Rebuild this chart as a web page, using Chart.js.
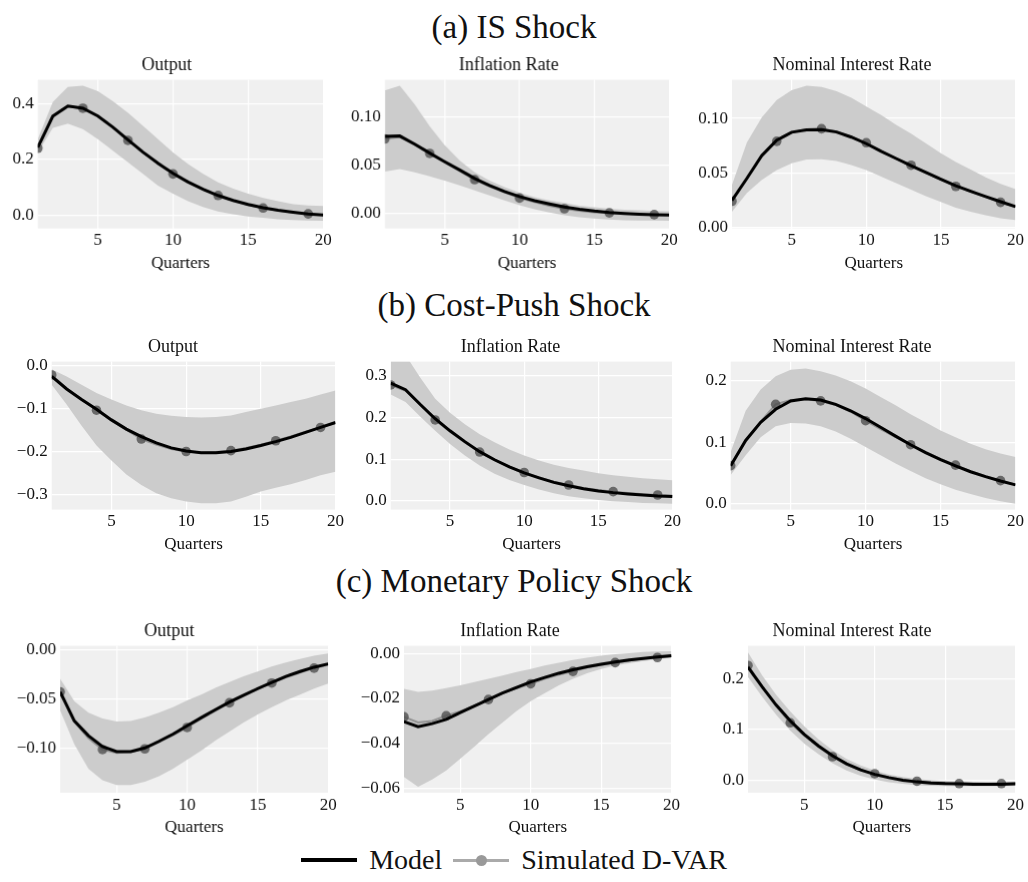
<!DOCTYPE html>
<html>
<head>
<meta charset="utf-8">
<script src="https://cdn.jsdelivr.net/npm/chart.js@4.4.1/dist/chart.umd.min.js"></script>
<style>
  html, body { margin: 0; padding: 0; background: #fff; }
  #page { position: relative; width: 1028px; height: 882px; font-family: 'Liberation Serif', serif; color: #111; }
  .section { position: absolute; left: 0; width: 1028px; text-align: center; font-size: 33px; line-height: 36px; }
  .box { position: absolute; }
  #legend { position: absolute; left: 0; width: 1028px; top: 842px; height: 36px; display: flex; justify-content: center; align-items: center; font-size: 28px; }
  .lg-model { width: 56px; height: 4px; background: #000; margin-right: 12px; }
  .lg-dvar { position: relative; width: 56px; height: 3px; background: #aaa; margin: 0 12px 0 11px; }
  .lg-dvar span { position: absolute; left: 23px; top: -4px; width: 11px; height: 11px; border-radius: 50%; background: #999; }
</style>
</head>
<body>
<div id="page">
  <div class="section" style="top:9px">(a) IS Shock</div>
  <div class="section" style="top:287px">(b) Cost-Push Shock</div>
  <div class="section" style="top:563px">(c) Monetary Policy Shock</div>
  <div id="legend">
    <div class="lg-model"></div><span>Model</span>
    <div class="lg-dvar"><span></span></div><span>Simulated D-VAR</span>
  </div>
</div>
<script>
// Horizon and axis ticks
const quarters = [1, 2, 3, 4, 5, 6, 7, 8, 9, 10, 11, 12, 13, 14, 15, 16, 17, 18, 19, 20];
const xTicks = [5, 10, 15, 20];
const panelTitles = ['Output', 'Inflation Rate', 'Nominal Interest Rate'];

// (a) IS shock
const isOutputModel = [0.243, 0.355, 0.391, 0.383, 0.355, 0.315, 0.270, 0.226, 0.186, 0.150, 0.119, 0.093, 0.071, 0.053, 0.039, 0.027, 0.018, 0.011, 0.005, 0.001];
const isOutputUpper = [0.272, 0.405, 0.459, 0.464, 0.444, 0.408, 0.367, 0.320, 0.272, 0.225, 0.183, 0.148, 0.118, 0.095, 0.077, 0.062, 0.050, 0.040, 0.035, 0.033];
const isOutputLower = [0.225, 0.313, 0.328, 0.308, 0.272, 0.231, 0.190, 0.148, 0.106, 0.077, 0.050, 0.030, 0.014, 0.004, -0.004, -0.009, -0.014, -0.017, -0.019, -0.020];
const isOutputDvar = [0.240, 0.352, 0.389, 0.383, 0.355, 0.315, 0.268, 0.225, 0.185, 0.148, 0.118, 0.092, 0.071, 0.053, 0.038, 0.026, 0.017, 0.010, 0.005, 0.001];

const isInflModel = [0.0795, 0.0800, 0.0716, 0.0624, 0.0535, 0.0450, 0.0362, 0.0290, 0.0228, 0.0176, 0.0133, 0.0099, 0.0068, 0.0044, 0.0026, 0.0012, 0.0002, -0.0006, -0.0012, -0.0016];
const isInflUpper = [0.127, 0.132, 0.1125, 0.090, 0.0706, 0.0546, 0.0426, 0.034, 0.0273, 0.0215, 0.017, 0.0136, 0.011, 0.008, 0.0065, 0.005, 0.004, 0.0034, 0.0027, 0.0024];
const isInflLower = [0.0433, 0.046, 0.0426, 0.0385, 0.034, 0.029, 0.0239, 0.0188, 0.0136, 0.0085, 0.0044, 0.001, -0.0017, -0.0038, -0.0051, -0.0061, -0.0068, -0.0072, -0.0072, -0.0075];
const isInflDvar = [0.077, 0.079, 0.071, 0.062, 0.053, 0.044, 0.035, 0.028, 0.022, 0.016, 0.012, 0.008, 0.005, 0.003, 0.0015, 0.0007, 0.0, -0.0006, -0.0011, -0.0015];

const isRateModel = [0.0247, 0.045, 0.066, 0.080, 0.0873, 0.0895, 0.0898, 0.0875, 0.0828, 0.0768, 0.0698, 0.0632, 0.0566, 0.0503, 0.0442, 0.0382, 0.0331, 0.0283, 0.0235, 0.019];
const isRateUpper = [0.039, 0.078, 0.101, 0.117, 0.126, 0.130, 0.129, 0.125, 0.119, 0.111, 0.103, 0.094, 0.086, 0.077, 0.068, 0.060, 0.053, 0.046, 0.040, 0.035];
const isRateLower = [0.0144, 0.0316, 0.0436, 0.0527, 0.0587, 0.0623, 0.0626, 0.0608, 0.0572, 0.0527, 0.0467, 0.0406, 0.0346, 0.0286, 0.0232, 0.018, 0.0144, 0.0111, 0.0084, 0.0066];
const isRateDvar = [0.024, 0.045, 0.065, 0.079, 0.087, 0.090, 0.0905, 0.088, 0.083, 0.0777, 0.070, 0.063, 0.057, 0.050, 0.044, 0.0376, 0.033, 0.028, 0.023, 0.019];

// (b) Cost-push shock
const cpOutputModel = [-0.0245, -0.0536, -0.078, -0.101, -0.1255, -0.147, -0.1645, -0.179, -0.1905, -0.198, -0.202, -0.202, -0.199, -0.193, -0.185, -0.176, -0.166, -0.1545, -0.143, -0.1316];
const cpOutputUpper = [-0.0077, -0.0245, -0.0436, -0.0627, -0.078, -0.092, -0.103, -0.111, -0.116, -0.1186, -0.12, -0.1186, -0.115, -0.107, -0.0995, -0.092, -0.084, -0.0765, -0.0666, -0.0574];
const cpOutputLower = [-0.0436, -0.0895, -0.139, -0.185, -0.2196, -0.2525, -0.277, -0.296, -0.3075, -0.315, -0.319, -0.319, -0.315, -0.304, -0.292, -0.283, -0.275, -0.265, -0.254, -0.246];
const cpOutputDvar = [-0.021, -0.052, -0.078, -0.103, -0.127, -0.149, -0.170, -0.183, -0.193, -0.199, -0.201, -0.200, -0.197, -0.191, -0.183, -0.174, -0.164, -0.153, -0.143, -0.132];

const cpInflModel = [0.2825, 0.2667, 0.231, 0.197, 0.168, 0.142, 0.118, 0.0986, 0.0813, 0.067, 0.0552, 0.0442, 0.0363, 0.0292, 0.0237, 0.0197, 0.0166, 0.0142, 0.0118, 0.0103];
const cpInflUpper = [0.345, 0.35, 0.295, 0.245, 0.2115, 0.184, 0.16, 0.1405, 0.123, 0.109, 0.097, 0.0868, 0.079, 0.0726, 0.0663, 0.0615, 0.0576, 0.0544, 0.052, 0.0497];
const cpInflLower = [0.255, 0.237, 0.202, 0.168, 0.1365, 0.109, 0.085, 0.065, 0.050, 0.038, 0.027, 0.018, 0.011, 0.006, 0.002, -0.001, -0.003, -0.005, -0.006, -0.007];
const cpInflDvar = [0.278, 0.264, 0.229, 0.194, 0.166, 0.140, 0.117, 0.098, 0.082, 0.068, 0.056, 0.046, 0.038, 0.031, 0.026, 0.022, 0.019, 0.016, 0.014, 0.012];

const cpRateModel = [0.0617, 0.1027, 0.132, 0.153, 0.1665, 0.170, 0.168, 0.161, 0.1506, 0.138, 0.124, 0.1096, 0.0958, 0.083, 0.0718, 0.0617, 0.0521, 0.0442, 0.0372, 0.0309];
const cpRateUpper = [0.084, 0.1506, 0.185, 0.2064, 0.217, 0.2187, 0.2144, 0.2075, 0.1984, 0.1867, 0.173, 0.1596, 0.145, 0.132, 0.1186, 0.108, 0.0974, 0.0883, 0.0814, 0.076];
const cpRateLower = [0.0468, 0.0787, 0.108, 0.1256, 0.131, 0.130, 0.1256, 0.117, 0.1053, 0.092, 0.0787, 0.0654, 0.0532, 0.0415, 0.0319, 0.0229, 0.016, 0.0096, 0.0043, 0.0005];
const cpRateDvar = [0.062, 0.103, 0.133, 0.161, 0.168, 0.169, 0.1665, 0.160, 0.149, 0.1346, 0.121, 0.108, 0.0958, 0.084, 0.073, 0.0628, 0.053, 0.045, 0.0378, 0.031];

// (c) Monetary policy shock
const mpOutputModel = [-0.0428, -0.0724, -0.0875, -0.0987, -0.1037, -0.1037, -0.1000, -0.0933, -0.0859, -0.0774, -0.069, -0.061, -0.0532, -0.0461, -0.0394, -0.033, -0.0269, -0.0219, -0.0175, -0.0141];
const mpOutputUpper = [-0.0293, -0.0522, -0.064, -0.070, -0.0731, -0.0724, -0.069, -0.064, -0.0583, -0.0515, -0.0455, -0.0387, -0.0327, -0.0269, -0.0219, -0.0168, -0.0128, -0.0091, -0.0057, -0.0034];
const mpOutputLower = [-0.0616, -0.096, -0.1212, -0.133, -0.138, -0.138, -0.1347, -0.129, -0.1212, -0.1121, -0.1027, -0.0926, -0.0832, -0.0741, -0.0657, -0.0583, -0.0515, -0.0455, -0.0394, -0.0343];
const mpOutputDvar = [-0.0428, -0.073, -0.090, -0.1017, -0.105, -0.104, -0.101, -0.094, -0.087, -0.0791, -0.070, -0.062, -0.0539, -0.047, -0.040, -0.0337, -0.028, -0.023, -0.0185, -0.015];

const mpInflModel = [-0.0303, -0.0326, -0.0312, -0.0293, -0.0263, -0.0234, -0.0205, -0.0176, -0.0151, -0.0127, -0.0107, -0.0088, -0.0073, -0.0059, -0.0048, -0.0038, -0.0029, -0.0022, -0.0016, -0.001];
const mpInflUpper = [-0.0157, -0.0171, -0.0165, -0.0154, -0.0142, -0.0127, -0.0113, -0.0098, -0.0083, -0.0069, -0.0054, -0.0041, -0.0029, -0.0019, -0.001, -0.0004, 0.0001, 0.0006, 0.0009, 0.001];
const mpInflLower = [-0.0549, -0.0593, -0.056, -0.052, -0.0468, -0.0414, -0.0358, -0.0307, -0.0256, -0.0212, -0.0176, -0.0142, -0.0113, -0.0088, -0.0069, -0.0054, -0.0044, -0.0034, -0.0026, -0.0019];
const mpInflDvar = [-0.0282, -0.0307, -0.0300, -0.0277, -0.0258, -0.0232, -0.0205, -0.0177, -0.0154, -0.0135, -0.0112, -0.0094, -0.0080, -0.0063, -0.0051, -0.0041, -0.0031, -0.0024, -0.0018, -0.0012];

const mpRateModel = [0.2226, 0.184, 0.148, 0.117, 0.090, 0.0677, 0.0484, 0.0323, 0.0206, 0.0116, 0.0052, 0.0, -0.0032, -0.0052, -0.0065, -0.0071, -0.0077, -0.0077, -0.0077, -0.0071];
const mpRateUpper = [0.2516, 0.2064, 0.1677, 0.1355, 0.1064, 0.0806, 0.0593, 0.0419, 0.029, 0.0194, 0.0116, 0.0065, 0.0026, 0.0, -0.0013, -0.0026, -0.0032, -0.0039, -0.0039, -0.0039];
const mpRateLower = [0.203, 0.1645, 0.129, 0.098, 0.0722, 0.0516, 0.0335, 0.0194, 0.009, 0.0013, -0.0039, -0.0071, -0.0097, -0.011, -0.0116, -0.0116, -0.0116, -0.0116, -0.0116, -0.011];
const mpRateDvar = [0.2258, 0.185, 0.146, 0.113, 0.088, 0.066, 0.0464, 0.031, 0.020, 0.0129, 0.006, 0.001, -0.0019, -0.004, -0.0055, -0.0065, -0.007, -0.0068, -0.0065, -0.006];

// y axis ranges and ticks, panel order row by row
const yMins = [-0.047, -0.0153, -0.001, -0.334, -0.021, -0.009, -0.1458, -0.0619, -0.0245];
const yMaxs = [0.485, 0.138, 0.1355, 0.010, 0.334, 0.230, 0.0044, 0.0034, 0.2645];
const yTickLists = [
  [0, 0.2, 0.4], [0, 0.05, 0.10], [0, 0.05, 0.10],
  [0, -0.1, -0.2, -0.3], [0, 0.1, 0.2, 0.3], [0, 0.1, 0.2],
  [0, -0.05, -0.10], [0, -0.02, -0.04, -0.06], [0, 0.1, 0.2]
];
const yDecimals = [1, 2, 2, 1, 1, 1, 2, 2, 1];

const panels = [
  [isOutputModel, isOutputUpper, isOutputLower, isOutputDvar],
  [isInflModel, isInflUpper, isInflLower, isInflDvar],
  [isRateModel, isRateUpper, isRateLower, isRateDvar],
  [cpOutputModel, cpOutputUpper, cpOutputLower, cpOutputDvar],
  [cpInflModel, cpInflUpper, cpInflLower, cpInflDvar],
  [cpRateModel, cpRateUpper, cpRateLower, cpRateDvar],
  [mpOutputModel, mpOutputUpper, mpOutputLower, mpOutputDvar],
  [mpInflModel, mpInflUpper, mpInflLower, mpInflDvar],
  [mpRateModel, mpRateUpper, mpRateLower, mpRateDvar]
];

// Layout (pixels)
const colLeft = [0, 338, 678];
const rowTop = [54.4, 336.1, 620.1];
const rowHeight = [218.4, 218.4, 216.7];
const plotLeft = [[37.7, 384.7, 732], [51.7, 390.7, 730.7], [60, 404, 748]];
const plotRight = [[321.7, 667.7, 1015], [335, 672, 1015], [326.7, 671, 1015]];
const RIGHT_PAD = 11;
const MARK_EVERY = 3;

Chart.defaults.font.family = "'Liberation Serif', serif";
Chart.defaults.color = '#111';

const panelBg = {
  id: 'panelBg',
  beforeDraw(chart) {
    const a = chart.chartArea;
    const ctx = chart.ctx;
    ctx.save();
    ctx.fillStyle = '#f0f0f0';
    ctx.fillRect(a.left, a.top, a.right - a.left, a.bottom - a.top);
    ctx.restore();
  }
};

function fmt(v, d) {
  const s = Math.abs(v).toFixed(d);
  return v < -1e-9 ? '\u2212' + s : s;
}

function pts(arr) {
  return quarters.map((q, i) => ({ x: q, y: arr[i] }));
}

const page = document.getElementById('page');

panels.forEach((p, k) => {
  const r = Math.floor(k / 3), c = k % 3;
  const [model, upper, lower, dvar] = p;
  const box = document.createElement('div');
  box.className = 'box';
  const w = plotRight[r][c] + RIGHT_PAD - colLeft[c];
  box.style.left = colLeft[c] + 'px';
  box.style.top = rowTop[r] + 'px';
  box.style.width = w + 'px';
  box.style.height = rowHeight[r] + 'px';
  const canvas = document.createElement('canvas');
  box.appendChild(canvas);
  page.appendChild(box);

  const yWidth = plotLeft[r][c] - colLeft[c];
  const ticksY = yTickLists[k];
  const dec = yDecimals[k];

  new Chart(canvas, {
    type: 'line',
    data: {
      datasets: [
        { label: 'lower', data: pts(lower), borderWidth: 0, pointRadius: 0, fill: false, order: 3 },
        { label: 'upper', data: pts(upper), borderWidth: 0, pointRadius: 0, fill: '-1', backgroundColor: '#cccccc', order: 2 },
        { label: 'Model', data: pts(model), borderColor: '#000', borderWidth: 3, pointRadius: 0, order: 0 },
        {
          label: 'Simulated D-VAR', data: pts(dvar),
          borderColor: 'rgba(140,140,140,0.9)', borderWidth: 2,
          pointRadius: quarters.map((q, i) => (i % MARK_EVERY === 0 ? 4.8 : 0)),
          pointBackgroundColor: 'rgba(80,80,80,0.8)', pointBorderWidth: 0,
          order: 1
        }
      ]
    },
    options: {
      responsive: true,
      maintainAspectRatio: false,
      animation: false,
      layout: { padding: 0 },
      plugins: {
        legend: { display: false },
        tooltip: { enabled: false },
        title: {
          display: true,
          text: panelTitles[c],
          font: { size: 18, weight: 'normal' },
          color: '#111',
          padding: { top: 0, bottom: 4 }
        }
      },
      scales: {
        x: {
          type: 'linear',
          min: 1,
          max: 20,
          afterBuildTicks: (axis) => { axis.ticks = xTicks.map(v => ({ value: v })); },
          ticks: { font: { size: 17 }, color: '#111', padding: 2, maxRotation: 0 },
          grid: { color: '#ffffff', lineWidth: 1.2, drawTicks: false },
          border: { display: false },
          title: { display: true, text: 'Quarters', font: { size: 17 }, color: '#111', padding: { top: 0, bottom: 0 } }
        },
        y: {
          type: 'linear',
          min: yMins[k],
          max: yMaxs[k],
          afterBuildTicks: (axis) => { axis.ticks = ticksY.map(v => ({ value: v })); },
          afterFit: (axis) => { axis.width = yWidth; },
          ticks: { font: { size: 17 }, color: '#111', padding: 4, callback: (v) => fmt(v, dec) },
          grid: { color: '#ffffff', lineWidth: 1.2, drawTicks: false },
          border: { display: false }
        }
      }
    },
    plugins: [panelBg]
  });
});
</script>
</body>
</html>
